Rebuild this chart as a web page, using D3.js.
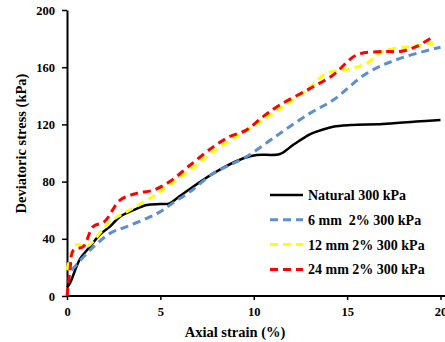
<!DOCTYPE html>
<html><head><meta charset="utf-8">
<script src="https://cdn.jsdelivr.net/npm/d3@7"></script>
<style>body{margin:0;background:#fff}svg{display:block}</style>
</head><body><svg id="c" width="445" height="342"></svg>
<script>
const xTicks = [0,5,10,15,20];
const yTicks = [0,40,80,120,160,200];
const seriesNames = ["Natural 300 kPa","6 mm  2% 300 kPa","12 mm 2% 300 kPa","24 mm 2% 300 kPa"];
const seriesColors = ["#000000","#5B8FCF","#FFFF00","#FF0000"];
const naturalStrain = [0,0.16,0.7,1.2,1.77,2.3,2.84,3.55,4.27,5,5.5,6.0,7.84,9.45,10.16,11.4,12.1,13,13.38,14.25,15.2,16.9,18.7,20];
const naturalStress = [6,9,26,34,43,48.5,55.5,60,63.6,64.3,64.8,69.5,85.8,96.3,98.6,99.3,105.6,113,115,118.4,119.6,120.3,122,123];
const mm6Strain = [0.25,1.23,2.3,3.2,4.27,5,5.7,6.6,7.84,9.6,11.4,13,14.25,16.05,17.8,20];
const mm6Stress = [18,32,43.8,48.5,54.3,59,65.3,73,85.8,97.4,113.7,127.7,137,155.7,166,174];
const mm12Strain = [0,0.52,1.05,2.3,3.2,4.27,5.34,6.6,7.84,9.63,11.4,13,13.9,15.2,16.05,16.9,18.7,19.6];
const mm12Stress = [18,36,34.5,52,59,67,76.4,88,101,116,131,146,155.7,159,162.7,171,175,176.7];
const mm24Strain = [0,0.16,0.34,0.87,1.4,2,2.84,3.73,4.62,5.5,6.6,7.84,8.7,9.6,10.5,11.4,13,14.25,15.5,16.93,17.84,18.7,19.6];
const mm24Stress = [0,18,32,34.5,48.5,52,67,71.8,74,80,91.6,104.4,111.4,116,125.4,133.6,145,154.5,168.5,171,171,174.4,181.3];
const seriesX = [naturalStrain, mm6Strain, mm12Strain, mm24Strain];
const seriesY = [naturalStress, mm6Stress, mm12Stress, mm24Stress];

const FONT = "'Liberation Serif', 'Times New Roman', Times, serif";
const svg = d3.select("#c");
const x = d3.scaleLinear().domain([0,20]).range([67,440.5]);
const y = d3.scaleLinear().domain([0,200]).range([296,10]);

const gx = svg.append("g").attr("transform","translate(0,296)")
  .call(d3.axisBottom(x).tickValues(xTicks).tickSize(4).tickSizeOuter(0).tickPadding(7));
const gy = svg.append("g").attr("transform","translate(67,0)")
  .call(d3.axisLeft(y).tickValues(yTicks).tickSize(5).tickSizeOuter(0).tickPadding(7));
[gx,gy].forEach(g=>{
  g.attr("font-family",FONT).attr("font-size",12.5).attr("font-weight","bold");
  g.selectAll("path.domain").attr("stroke","#000").attr("stroke-width",2);
  g.selectAll("line").attr("stroke","#000").attr("stroke-width",1.5);
  g.selectAll("text").attr("fill","#000");
});
gx.select("path.domain").attr("d","M67,0H445");

const line = d3.line().x(d=>x(d[0])).y(d=>y(d[1])).curve(d3.curveCatmullRom.alpha(0.5));
[0,1,2,3].forEach(i=>{
  const pts = seriesX[i].map((v,k)=>[v,seriesY[i][k]]);
  svg.append("path").attr("d",line(pts)).attr("fill","none")
    .attr("stroke",seriesColors[i]).attr("stroke-width", i===0?2.5:3)
    .attr("stroke-dasharray", i===0?null:"8,5");
});

const lg = svg.append("g").attr("font-family",FONT).attr("font-weight","bold").attr("font-size",14);
seriesNames.forEach((n,i)=>{
  const yy = 195 + i*24.8;
  lg.append("line").attr("x1",270).attr("x2",303).attr("y1",yy).attr("y2",yy)
    .attr("stroke",seriesColors[i]).attr("stroke-width",i===0?2.5:3)
    .attr("stroke-dasharray", i===0?null:"8,5");
  lg.append("text").attr("x",308).attr("y",yy+5).style("white-space","pre").text(n);
});

const tg = svg.append("g").attr("font-family",FONT).attr("font-weight","bold").attr("font-size",14.5);
tg.append("text").attr("x",235).attr("y",337).attr("text-anchor","middle").text("Axial strain (%)");
tg.append("text").attr("transform","translate(26,143.5) rotate(-90)").attr("text-anchor","middle").text("Deviatoric stress (kPa)");
</script></body></html>
